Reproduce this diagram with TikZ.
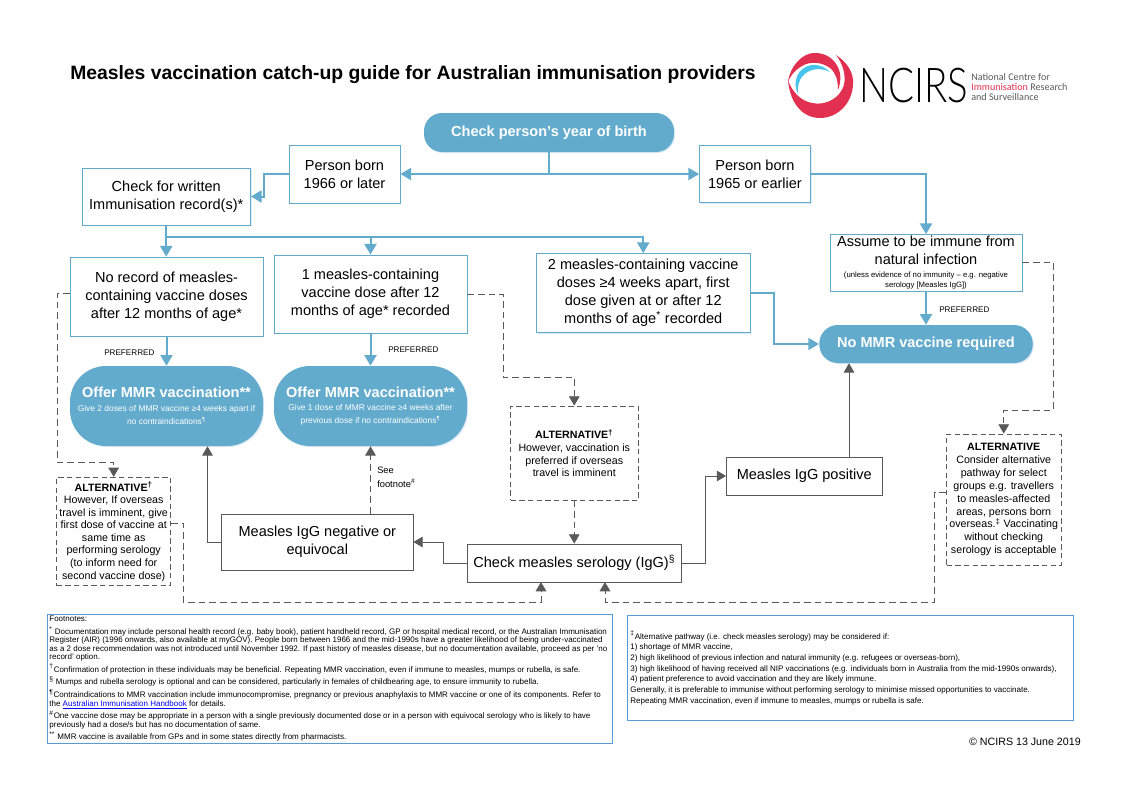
\documentclass[tikz,border=0pt]{standalone}
\usepackage{fontspec}
\setmainfont{Liberation Sans}
\newfontfamily\logofont{Lato Light}
\newfontfamily\logosmall{Carlito}
\usepackage{xcolor}
\usepackage{tikz}
\usetikzlibrary{arrows.meta,shadows}
\definecolor{ncblue}{RGB}{99,171,205}
\definecolor{ncedge}{RGB}{91,155,213}
\definecolor{ncgrey}{RGB}{89,89,89}
\definecolor{ncred}{RGB}{226,48,80}
\definecolor{ncsky}{RGB}{70,196,236}
\newcommand{\boxfont}{\fontsize{10.9}{13.4}\selectfont}
\newcommand{\pillfont}{\bfseries\fontsize{10.9}{13}\selectfont}
\newcommand{\subfont}{\mdseries\fontsize{6.3}{10}\selectfont}
\tikzset{
  every node/.append style={execute at begin node={\lineskiplimit=-20pt}},
  sz/.style n args={2}{minimum width=#1*0.75pt,minimum height=#2*0.75pt,text width=(#1-2)*0.75pt},
  softshadow/.style={drop shadow={shadow xshift=0.8pt,shadow yshift=-0.8pt,fill=ncedge,opacity=0.22}},
  bluebox/.style={draw=ncblue,line width=0.6pt,fill=white,align=flush center,inner sep=0pt,font=\boxfont,softshadow},
  greybox/.style={draw=ncgrey,line width=0.6pt,fill=white,align=flush center,inner sep=0pt,font=\boxfont,softshadow},
  pill/.style={fill=ncblue,align=flush center,inner sep=0pt,text=white,softshadow},
  altbox/.style={draw=ncgrey,dash pattern=on 4pt off 2.5pt,line width=0.6pt,fill=white,align=flush center,inner sep=0pt,font=\fontsize{8}{9.4}\selectfont},
  notebox/.style={draw=ncedge,line width=0.6pt,anchor=north west,inner sep=0pt,align=flush left},
  blueline/.style={draw=ncblue,line width=1.5pt,-{Triangle[length=8pt,width=9pt]}},
  greyline/.style={draw=ncgrey,line width=0.7pt,-{Triangle[length=7pt,width=8pt]}},
  altline/.style={draw=ncgrey,line width=0.7pt,dash pattern=on 5pt off 3pt,-{Triangle[length=7pt,width=8pt]}},
  tag/.style={inner sep=0pt,font=\fontsize{6.1}{8}\selectfont,align=left},
}
\begin{document}
\begin{tikzpicture}[x=0.75pt,y=0.75pt,yscale=-1,xscale=1]
\useasboundingbox (0,0) rectangle (1122,793);

% Title
\node (title) [anchor=west,inner sep=0pt,font=\bfseries\fontsize{14.5}{16}\selectfont] at (70,75) {Measles vaccination catch-up guide for Australian immunisation providers};

% Logo
\fill [ncred] (836,55) .. controls (848,63) and (854,73) .. (853,85) .. controls (852,103) and (838,118) .. (820,118) .. controls (803,118) and (790,104) .. (788,80) .. controls (792,92) and (801,101) .. (812,103) .. controls (826,106) and (840,98) .. (844,85) .. controls (846,75) and (843,64) .. (836,55) -- cycle;
\fill [ncred] (788,82) .. controls (790,66) and (802,54) .. (813,53) .. controls (826,52) and (837,60) .. (840,73) .. controls (841,79) and (840,85) .. (838,90) .. controls (838,80) and (836,73) .. (830,68) .. controls (822,62) and (810,61) .. (802,66) .. controls (795,70) and (790,76) .. (788,82) -- cycle;
\fill [ncsky] (830,72) .. controls (822,64) and (811,63) .. (804,68) .. controls (796,73) and (793,84) .. (798,94) .. controls (797,85) and (800,77) .. (806,73) .. controls (813,68) and (822,68) .. (830,72) -- cycle;
\node (logoname) [anchor=west,inner sep=0pt,font=\logofont\fontsize{36}{36}\selectfont] at (859,86) {\scalebox{0.8}[1]{NCIRS}};
\node (logotext) [anchor=west,inner sep=0pt,align=left,text=ncgrey,font=\logosmall\fontsize{7.6}{7.5}\selectfont] at (971,87) {National Centre for\\{\color{ncred}Immunisation} Research\\and Surveillance};

% Top row
\node (start) [pill,sz={250}{39},rounded corners=13.5pt,font=\pillfont] at (549,132.5) {Check person’s year of birth};
\node (later) [bluebox,sz={111}{58}] at (344.5,174) {Person born\\1966 or later};
\node (earlier) [bluebox,sz={111}{57}] at (755,174) {Person born\\1965 or earlier};
\node (record) [bluebox,sz={168.5}{57}] at (166.25,196.5) {Check for written\\Immunisation record(s)*};

% Record row
\node (none) [bluebox,sz={193}{79}] at (166.5,296.5) {No record of measles-\\containing vaccine doses\\after 12 months of age*};
\node (one) [bluebox,sz={193}{78}] at (370.5,294) {1 measles-containing\\vaccine dose after 12\\months of age* recorded};
\node (two) [bluebox,sz={213.5}{79}] at (643.25,293) {2 measles-containing vaccine\\doses ≥4 weeks apart, first\\dose given at or after 12\\months of age\textsuperscript{*} recorded};
\node (immune) [bluebox,sz={192}{56.5}] at (926,262.75) {Assume to be immune from\par natural infection\par\vskip2.2pt\fontsize{5.8}{7.6}\selectfont (unless evidence of no immunity -- e.g. negative\par serology [Measles IgG])\par};

% Outcomes
\node (nommr) [pill,sz={213.5}{38},rounded corners=14pt,font=\pillfont] at (926,344) {No MMR vaccine required};
\node (offertwo) [pill,sz={193}{80},rounded corners=27pt] at (166.5,406) {{\pillfont Offer MMR vaccination**\par}\subfont Give 2 doses of MMR vaccine ≥4 weeks apart if\par no contraindications\textsuperscript{¶}\par};
\node (offerone) [pill,sz={193}{80},rounded corners=27pt] at (370.5,406) {{\pillfont Offer MMR vaccination**\par}\subfont Give 1 dose of MMR vaccine ≥4 weeks after\par previous dose if no contraindications\textsuperscript{¶}\par};

% Serology
\node (serology) [greybox,sz={213.5}{38}] at (574.25,563) {Check measles serology (IgG)\textsuperscript{§}};
\node (negative) [greybox,sz={191.3}{56}] at (317.35,542) {Measles IgG negative or\\equivocal};
\node (positive) [greybox,sz={155.5}{38}] at (804.25,476) {Measles IgG positive};

% Alternatives
\node (altone) [altbox,sz={114}{108.4}] at (113.7,531.5) {{\bfseries ALTERNATIVE\textsuperscript{†}}\\However, If overseas\\travel is imminent, give\\first dose of vaccine at\\same time as\\performing serology\\(to inform need for\\second vaccine dose)};
\node (alttwo) [altbox,sz={127.5}{94}] at (574.25,453) {{\bfseries ALTERNATIVE\textsuperscript{†}}\\However, vaccination is\\preferred if overseas\\travel is imminent};
\node (altthree) [altbox,sz={114.5}{131},font=\fontsize{8}{9.7}\selectfont] at (1003.75,499.5) {{\bfseries ALTERNATIVE}\\Consider alternative\\pathway for select\\groups e.g. travellers\\to measles-affected\\areas, persons born\\overseas.\textsuperscript{‡} Vaccinating\\without checking\\serology is acceptable};

% Tags
\node (prefa) [tag,anchor=west] at (104,353) {PREFERRED};
\node (prefb) [tag,anchor=west] at (388,350) {PREFERRED};
\node (prefc) [tag,anchor=west] at (939,310) {PREFERRED};
\node (seefoot) [tag,anchor=north west,font=\fontsize{7}{10.5}\selectfont] at (377,467) {See\\footnote\textsuperscript{\#}};
\node (copyr) [inner sep=0pt,anchor=east,font=\fontsize{8}{9}\selectfont] at (1081,742) {© NCIRS 13 June 2019};

% Footnotes
\node (notesleft) [notebox,minimum width=565*0.75pt,minimum height=129*0.75pt,text width=561*0.75pt,inner xsep=2*0.75pt,font=\fontsize{6}{6.2}\selectfont] at (47,614) {Footnotes:\\[3.4pt]
\textsuperscript{*} Documentation may include personal health record (e.g. baby book), patient handheld record, GP or hospital medical record, or the Australian Immunisation\\Register (AIR) (1996 onwards, also available at myGOV). People born between 1966 and the mid-1990s have a greater likelihood of being under-vaccinated\\as a 2 dose recommendation was not introduced until November 1992. If past history of measles disease, but no documentation available, proceed as per 'no\\record' option.\\[3.4pt]
\textsuperscript{†}Confirmation of protection in these individuals may be beneficial. Repeating MMR vaccination, even if immune to measles, mumps or rubella, is safe.\\[3.4pt]
\textsuperscript{§} Mumps and rubella serology is optional and can be considered, particularly in females of childbearing age, to ensure immunity to rubella.\\[3.4pt]
\textsuperscript{¶}Contraindications to MMR vaccination include immunocompromise, pregnancy or previous anaphylaxis to MMR vaccine or one of its components. Refer to\\the {\color{blue}\underline{Australian Immunisation Handbook}} for details.\\[3.4pt]
\textsuperscript{\#}One vaccine dose may be appropriate in a person with a single previously documented dose or in a person with equivocal serology who is likely to have\\previously had a dose/s but has no documentation of same.\\[3.4pt]
\textsuperscript{**} MMR vaccine is available from GPs and in some states directly from pharmacists.};
\node (notesright) [notebox,minimum width=446*0.75pt,minimum height=105*0.75pt,text width=440*0.75pt,inner xsep=3*0.75pt,font=\fontsize{6}{8}\selectfont] at (627,615) {\textsuperscript{‡}Alternative pathway (i.e. check measles serology) may be considered if:\\
1) shortage of MMR vaccine,\\
2) high likelihood of previous infection and natural immunity (e.g. refugees or overseas-born),\\
3) high likelihood of having received all NIP vaccinations (e.g. individuals born in Australia from the mid-1990s onwards),\\
4) patient preference to avoid vaccination and they are likely immune.\\
Generally, it is preferable to immunise without performing serology to minimise missed opportunities to vaccinate.\\
Repeating MMR vaccination, even if immune to measles, mumps or rubella is safe.};

% Blue connectors
\coordinate (startfork) at (549,174);
\coordinate (laterbend) at (264,174);
\coordinate (recordfork) at (166.25,237);
\coordinate (earlierbend) at (926,174);
\coordinate (twobend) at (774,293);
\draw [blueline] (start.south) -- (startfork) -- (later.east);
\draw [blueline] (startfork) -- (earlier.west);
\draw [blueline] (later.west) -- (laterbend) |- (record.east);
\draw [blueline] (record.south) -- (record.south |- none.north);
\draw [blueline] (recordfork) -| (one.north);
\draw [blueline] (recordfork) -| (two.north);
\draw [blueline] (earlier.east) -- (earlierbend) -- (immune.north);
\draw [blueline] (none.south) -- (offertwo.north);
\draw [blueline] (one.south) -- (offerone.north);
\draw [blueline] (immune.south) -- (nommr.north);
\draw [blueline] (two.east) -- (twobend) |- (nommr.west);

% Grey connectors
\coordinate (negbend) at (207.5,542);
\coordinate (posbend) at (705.5,563);
\coordinate (serbend) at (443,563);
\coordinate (posout) at (849,457);
\draw [greyline] (posout) -- (posout |- nommr.south);
\draw [greyline] (serology.east) -- (posbend) |- (positive.west);
\draw [greyline] (serology.west) -- (serbend) |- (negative.east);
\draw [greyline] (negative.west) -- (negbend) -- (negbend |- offertwo.south);

% Dashed connectors
\coordinate (nonea) at (57,293);
\coordinate (noneb) at (57,462);
\coordinate (onea) at (503,294);
\coordinate (oneb) at (503,377);
\coordinate (alta) at (183,523);
\coordinate (altb) at (183,602);
\coordinate (altc) at (934.5,492);
\coordinate (altd) at (934.5,602);
\coordinate (imma) at (1053,262);
\coordinate (immb) at (1053,410);
\coordinate (serlefta) at (541,582);
\coordinate (serleftb) at (605,582);
\draw [altline] (none.west |- nonea) -- (nonea) -- (noneb) -| (altone.north);
\draw [altline] (one.east |- onea) -- (onea) -- (oneb) -| (alttwo.north);
\draw [altline] (alttwo.south) -- (serology.north);
\draw [altline] (negative.north -| offerone.south) -- (offerone.south);
\draw [altline] (altone.east |- alta) -- (alta) -- (altb) -| (serlefta);
\draw [altline] (altthree.west |- altc) -- (altc) -- (altd) -| (serleftb);
\draw [altline] (immune.east |- imma) -- (imma) -- (immb) -| (altthree.north);
\end{tikzpicture}
\end{document}
